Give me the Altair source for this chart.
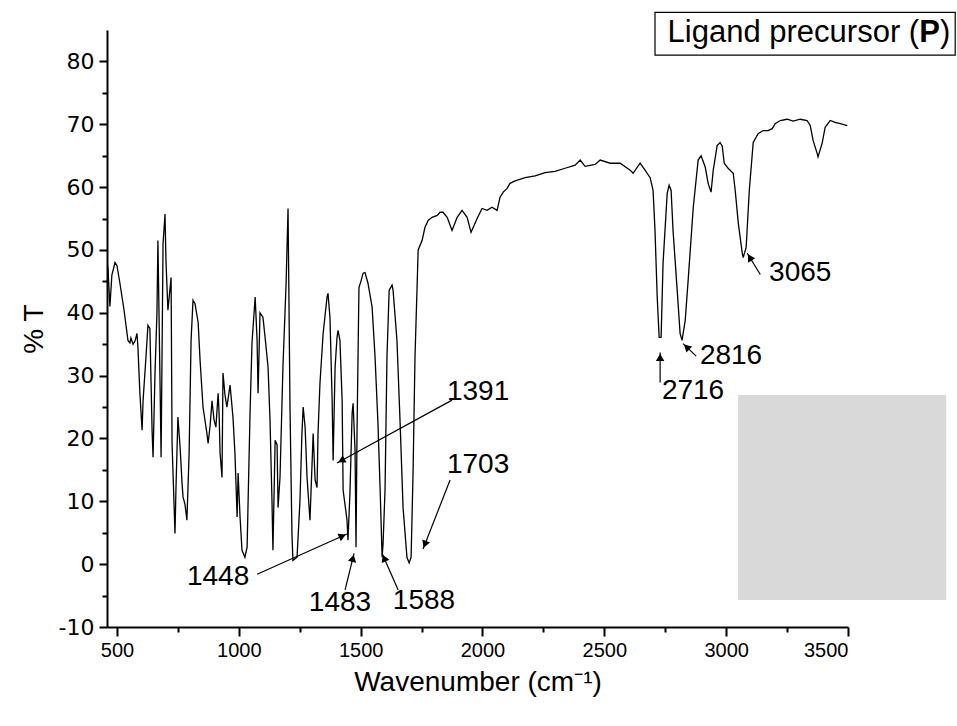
import math
import altair as alt
import pandas as pd

# ---------------- data ----------------
wavenumber = [459, 463, 471, 479, 492, 500, 512, 529, 545, 553, 557, 566, 574, 582, 586,
              594, 603, 607, 619, 627, 635, 644, 648, 656, 664, 668, 677, 681, 689, 697,
              701, 709, 722, 726, 738, 742, 750, 759, 767, 771, 779, 787, 796, 804, 812,
              820, 833, 841, 853, 869, 874, 882, 890, 898, 906, 915, 919, 923, 931, 935,
              943, 951, 964, 976, 984, 993, 997, 1005, 1013, 1025, 1034, 1046, 1054, 1067,
              1075, 1079, 1087, 1099, 1108, 1120, 1128, 1136, 1140, 1149, 1157, 1161, 1169,
              1181, 1194, 1202, 1210, 1218, 1222, 1239, 1251, 1259, 1264, 1272, 1280, 1292,
              1300, 1305, 1313, 1321, 1325, 1333, 1346, 1362, 1366, 1374, 1383, 1387, 1395,
              1403, 1407, 1415, 1424, 1428, 1444, 1448, 1456, 1465, 1469, 1477, 1481, 1485,
              1493, 1501, 1510, 1518, 1530, 1547, 1559, 1571, 1580, 1588, 1592, 1600, 1608,
              1617, 1629, 1633, 1649, 1662, 1674, 1690, 1699, 1707, 1715, 1723, 1736, 1752,
              1764, 1777, 1793, 1814, 1826, 1838, 1855, 1875, 1896, 1916, 1937, 1953, 1978,
              1998, 2019, 2039, 2060, 2072, 2085, 2101, 2113, 2134, 2175, 2216, 2257, 2298,
              2339, 2380, 2401, 2421, 2462, 2483, 2524, 2565, 2606, 2618, 2647, 2667, 2688,
              2700, 2708, 2717, 2725, 2733, 2741, 2758, 2766, 2774, 2782, 2799, 2811, 2819,
              2832, 2844, 2865, 2885, 2897, 2914, 2926, 2938, 2947, 2963, 2975, 2984, 2992,
              3008, 3029, 3037, 3050, 3066, 3070, 3082, 3095, 3111, 3131, 3152, 3172, 3189,
              3201, 3222, 3250, 3275, 3304, 3332, 3345, 3357, 3373, 3377, 3394, 3406, 3427,
              3447, 3468, 3497]
transmittance = [48, 47, 41, 46, 48, 47.5, 44.7, 40.4, 35.6, 35.2, 36, 35, 35.5, 36.7, 34.5,
                 27.2, 21.3, 26, 33, 38, 37.5, 21.3, 17, 30.4, 40, 51.5, 28, 17, 51, 55.7,
                 48.3, 40.4, 45.6, 19.2, 4.9, 12, 23.4, 18.6, 12.9, 10.7, 9.5, 7, 17.7, 35.6, 42,
                 41.5, 38.5, 32.4, 25, 20.8, 19.2, 22, 26, 23, 21.8, 27.2, 24, 17.7, 13.8, 30.4,
                 27, 25, 28.5, 23.4, 17.7, 7.5, 14.5, 7.5, 2.2, 1.1, 2.7, 24, 35.2, 42.5,
                 35.6, 27.2, 40, 39.3, 36, 31.3, 22.9, 10.2, 2.2, 19.7, 19, 9, 13.8,
                 31.3, 44.7, 56.6, 25, 4.9, 0.6, 1.1, 10.2, 20.8, 25, 21.8, 13.8, 7,
                 15.4, 20.8, 13.4, 12.2, 20.8, 28.8, 36.7, 42.5, 43.1, 39.3, 26, 16.5, 31.3,
                 36.1, 37.2, 35.6, 26, 11.8, 7, 3.8, 11.3, 24, 25.6, 18.1, 2.7, 20.8,
                 44, 45, 46.3, 46.4, 44.7, 40.9, 33, 22.4, 11.8, 1.1, 3.3, 11.8, 33,
                 43.6, 44.4, 43.6, 35.6, 22.4, 9, 1.1, 0.2, 1.1, 14.5, 33, 50, 51.5,
                 53.6, 54.7, 55.2, 55.5, 56, 56, 55.2, 53.1, 55.2, 56.3, 55.2, 52.8, 55,
                 56.6, 56.3, 56.8, 56.3, 58.4, 59.2, 59.8, 60.6, 61, 61.5, 61.8, 62.3, 62.5,
                 63, 63.5, 64.3, 63.3, 63.6, 64.3, 63.8, 63.8, 62.7, 62.2, 63.8, 62.7, 61.5,
                 59.5, 53.1, 42.5, 36.1, 36.1, 47.9, 59, 60.3, 59.5, 53.1, 43.6, 36.7, 35.6,
                 38.8, 45.2, 56.8, 64.3, 65, 63.2, 60.6, 59.2, 62.7, 66.6, 67.1, 66.5, 63.8,
                 63, 62.2, 59.5, 54.2, 49.5, 48.8, 50.4, 59.5, 67.1, 68.5, 69, 69, 69.3,
                 70.1, 70.6, 70.8, 70.5, 70.8, 70.6, 69.8, 67.4, 65.4, 64.8, 67, 69.5, 70.6,
                 70.3, 70.1, 69.8]

# peak annotations: label, text position, arrow tail, arrow head (data units)
peak_labels = ["1391", "1703", "1448", "1483", "1588", "2716", "2816", "3065"]
label_x = [1982, 1982, 915, 1415, 1760, 2864, 3020, 3304]
label_y = [27.4, 15.7, -2.1, -6.2, -5.9, 27.5, 33.1, 46.4]
tail_x = [1875, 1867, 1075, 1436, 1654, 2729, 2877, 3140]
tail_y = [26.1, 13.4, -1.6, -4.1, -4.1, 28.9, 33.1, 46.1]
head_x = [1403, 1756, 1444, 1473, 1588, 2729, 2823, 3086]
head_y = [16.1, 2.4, 4.8, 1.7, 1.7, 33.7, 35.1, 49.5]

x_major = [500, 1000, 1500, 2000, 2500, 3000, 3500]
x_minor = [750, 1250, 1750, 2250, 2750, 3250]
y_major = [-10, 0, 10, 20, 30, 40, 50, 60, 70, 80]
y_minor = [-5, 5, 15, 25, 35, 45, 55, 65, 75]

# grey box and legend box (data units)
grey_box = {"x": [3049], "x2": [3903], "y": [26.9], "y2": [-5.7]}
legend_box = {"x": [2708], "x2": [3940], "y": [87.8], "y2": [81.0]}
legend_parts = ["Ligand precursor (", "P", ")"]
legend_part_x = [3792, 3792, 3878]
legend_text_y = 84.5

X_DOMAIN = [459, 3500]
Y_DOMAIN = [-10, 85]
W, H = 741, 597
FONT = "Liberation Sans"

xs = alt.Scale(domain=X_DOMAIN, nice=False, zero=False)
ys = alt.Scale(domain=Y_DOMAIN, nice=False, zero=False)

spec = pd.DataFrame({"wn": wavenumber, "T": transmittance})

line = alt.Chart(spec).mark_line(color="black", strokeWidth=1.3, clip=True).encode(
    x=alt.X("wn:Q", scale=xs, axis=alt.Axis(
        values=x_major, format="d", orient="bottom", grid=False,
        tickSize=9, tickWidth=2, tickColor="black", domainWidth=2, domainColor="black",
        labelFont=FONT, labelFontSize=20, labelColor="black", labelPadding=4,
        title="Wavenumber (cm⁻¹)", titleFont=FONT, titleFontSize=28,
        titleFontWeight="normal", titleColor="black", titlePadding=8)),
    y=alt.Y("T:Q", scale=ys, axis=alt.Axis(
        values=y_major, format="d", orient="left", grid=False,
        labelExpr="replace(datum.label, '−', '-')",
        tickSize=8, tickWidth=2, tickColor="black", domainWidth=2, domainColor="black",
        labelFont="DejaVu Sans", labelFontSize=22, labelColor="black", labelPadding=5,
        title="% T", titleFont=FONT, titleFontSize=28, titleFontWeight="normal",
        titleColor="black", titlePadding=10)),
)

minor = alt.Chart(spec).mark_line(opacity=0).encode(
    x=alt.X("wn:Q", scale=xs, axis=alt.Axis(
        values=x_minor, orient="bottom", labels=False, domain=False, grid=False,
        tickSize=5, tickWidth=2, tickColor="black", title=None)),
    y=alt.Y("T:Q", scale=ys, axis=alt.Axis(
        values=y_minor, orient="left", labels=False, domain=False, grid=False,
        tickSize=5, tickWidth=2, tickColor="black", title=None)),
)

# arrows
px_per_x = W / (X_DOMAIN[1] - X_DOMAIN[0])
px_per_y = H / (Y_DOMAIN[1] - Y_DOMAIN[0])
angles, tip_x, tip_y = [], [], []
for tx, ty, hx, hy in zip(tail_x, tail_y, head_x, head_y):
    dx = (hx - tx) * px_per_x
    dy = -(hy - ty) * px_per_y
    ln = math.hypot(dx, dy)
    ux, uy = dx / ln, dy / ln
    angles.append(math.degrees(math.atan2(dx, -dy)) % 360)
    back = 5.0
    tip_x.append(hx - ux * back / px_per_x)
    tip_y.append(hy + uy * back / px_per_y)

ann = pd.DataFrame({
    "label": peak_labels, "lx": label_x, "ly": label_y,
    "tx": tail_x, "ty": tail_y, "hx": head_x, "hy": head_y,
    "px": tip_x, "py": tip_y, "angle": angles,
})

shafts = alt.Chart(ann).mark_rule(color="black", strokeWidth=1.2).encode(
    x=alt.X("tx:Q", scale=xs, axis=None), y=alt.Y("ty:Q", scale=ys, axis=None),
    x2="hx:Q", y2="hy:Q")

heads = alt.Chart(ann).mark_point(shape="triangle-up", filled=True, color="black",
                                  size=70, opacity=1).encode(
    x=alt.X("px:Q", scale=xs, axis=None), y=alt.Y("py:Q", scale=ys, axis=None),
    angle=alt.Angle("angle:Q", scale=None))

labels = alt.Chart(ann).mark_text(font=FONT, fontSize=28, color="black",
                                  align="center", baseline="middle").encode(
    x=alt.X("lx:Q", scale=xs, axis=None), y=alt.Y("ly:Q", scale=ys, axis=None),
    text="label:N")

grey = alt.Chart(pd.DataFrame(grey_box)).mark_rect(color="#d9d9d9").encode(
    x=alt.X("x:Q", scale=xs, axis=None), x2="x2:Q",
    y=alt.Y("y:Q", scale=ys, axis=None), y2="y2:Q")

lbox = alt.Chart(pd.DataFrame(legend_box)).mark_rect(
    fill="white", stroke="black", strokeWidth=1.2).encode(
    x=alt.X("x:Q", scale=xs, axis=None), x2="x2:Q",
    y=alt.Y("y:Q", scale=ys, axis=None), y2="y2:Q")

leg_df = pd.DataFrame({"t": legend_parts, "x": legend_part_x,
                       "y": [legend_text_y] * 3})
leg_main = alt.Chart(leg_df.iloc[[0]]).mark_text(
    font=FONT, fontSize=31, color="black", align="right", baseline="middle").encode(
    x=alt.X("x:Q", scale=xs, axis=None), y=alt.Y("y:Q", scale=ys, axis=None), text="t:N")
leg_p = alt.Chart(leg_df.iloc[[1]]).mark_text(
    font=FONT, fontSize=31, fontWeight="bold", color="black", align="left",
    baseline="middle").encode(
    x=alt.X("x:Q", scale=xs, axis=None), y=alt.Y("y:Q", scale=ys, axis=None), text="t:N")
leg_close = alt.Chart(leg_df.iloc[[2]]).mark_text(
    font=FONT, fontSize=31, color="black", align="left", baseline="middle").encode(
    x=alt.X("x:Q", scale=xs, axis=None), y=alt.Y("y:Q", scale=ys, axis=None), text="t:N")

chart = alt.layer(line, minor, shafts, heads, labels, grey, lbox, leg_main, leg_p, leg_close
).resolve_axis(x="independent", y="independent").properties(
    width=W, height=H,
    autosize=alt.AutoSizeParams(type="none"),
    padding={"left": 107, "top": 30, "right": 109, "bottom": 99},
    background="white",
).configure_view(stroke=None)

chart.save("out.html", embed_options={"renderer": "svg", "actions": False})
